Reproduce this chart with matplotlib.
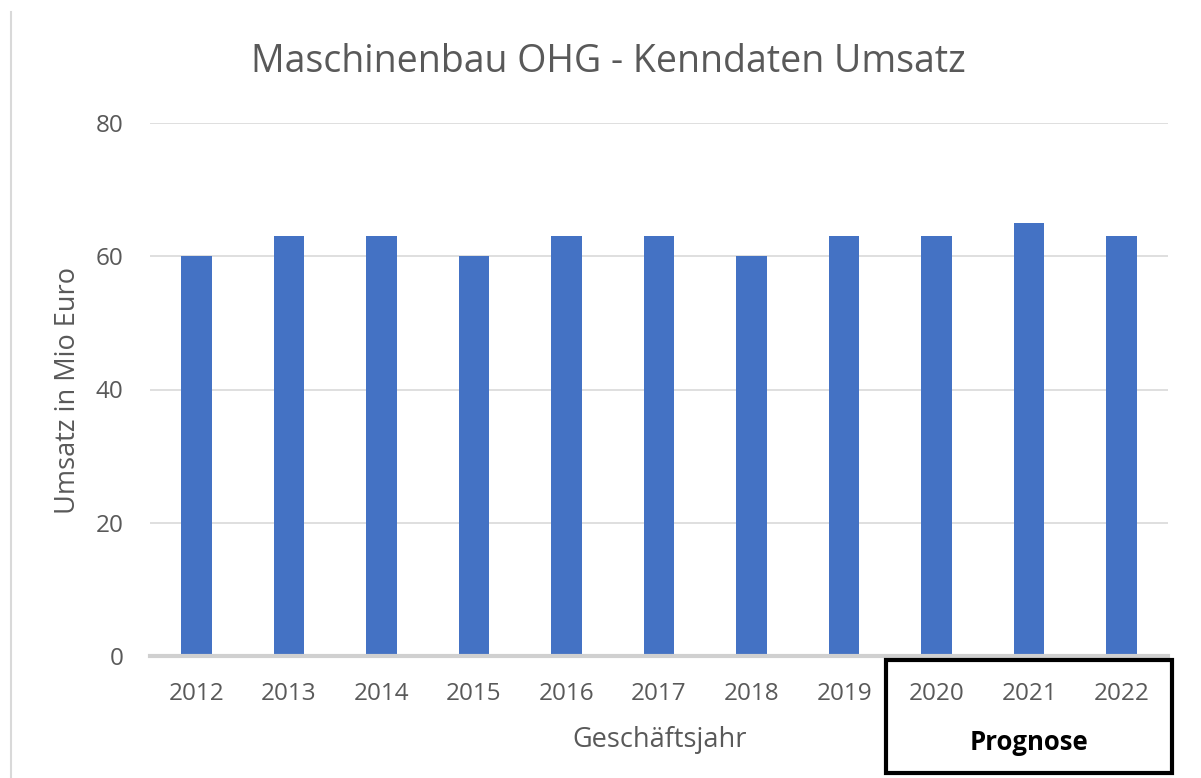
import matplotlib
matplotlib.use("Agg")
import matplotlib.pyplot as plt
from matplotlib.patches import Rectangle
from matplotlib.lines import Line2D

years = ["2012", "2013", "2014", "2015", "2016", "2017", "2018", "2019", "2020", "2021", "2022"]
umsatz = [60, 63, 63, 60, 63, 63, 60, 63, 63, 65, 63]
yticks = [0, 20, 40, 60, 80]

title = "Maschinenbau OHG - Kenndaten Umsatz"
ylabel = "Umsatz in Mio Euro"
xlabel = "Geschäftsjahr"
prognose = "Prognose"

plt.rcParams['font.family'] = ['Open Sans', 'DejaVu Sans']

W, H = 1201, 778
fig = plt.figure(figsize=(W / 100, H / 100), dpi=100)
ax = fig.add_axes([150 / W, 1 - 656 / H, (1168 - 150) / W, (656 - 123) / H])

x = list(range(len(years)))
ax.bar(x, umsatz, width=0.33, color="#4472C4", zorder=3)
ax.set_xlim(-0.5, len(years) - 0.5)
ax.set_ylim(0, 80)
ax.set_yticks(yticks)
ax.set_xticks(x)
ax.set_xticklabels(years)
ax.grid(axis="y", color="#d9d9d9", linewidth=1.2, zorder=0)
ax.tick_params(axis="both", length=0, labelsize=17.5, labelcolor="#595959")
ax.tick_params(axis="x", pad=19)
ax.tick_params(axis="y", pad=19)
for s in ["top", "right", "left"]:
    ax.spines[s].set_visible(False)
ax.spines["bottom"].set_color("#d0d0d0")
ax.spines["bottom"].set_linewidth(3)
ax.spines["bottom"].set_zorder(4)

fig.text(608 / W, 1 - 62 / H, title, ha="center", va="center", fontsize=27, color="#595959")
fig.text(68 / W, 1 - 390 / H, ylabel, ha="center", va="center", rotation=90, fontsize=19.5, color="#595959")
fig.text(660 / W, 1 - 740 / H, xlabel, ha="center", va="center", fontsize=19.5, color="#595959")

# left border line
fig.add_artist(Line2D([11 / W, 11 / W], [0, 1 - 12 / H], transform=fig.transFigure, color="#d9d9d9", linewidth=1.5))

# Prognose box
fig.add_artist(Rectangle((886 / W, 1 - 773 / H), (1172 - 886) / W, (773 - 660) / H,
                         transform=fig.transFigure, fill=False, edgecolor="black", linewidth=3))
fig.text(1029 / W, 1 - 743 / H, prognose, ha="center", va="center", fontsize=18.5, fontweight="bold", color="black")

fig.savefig("out.png", dpi=100)
